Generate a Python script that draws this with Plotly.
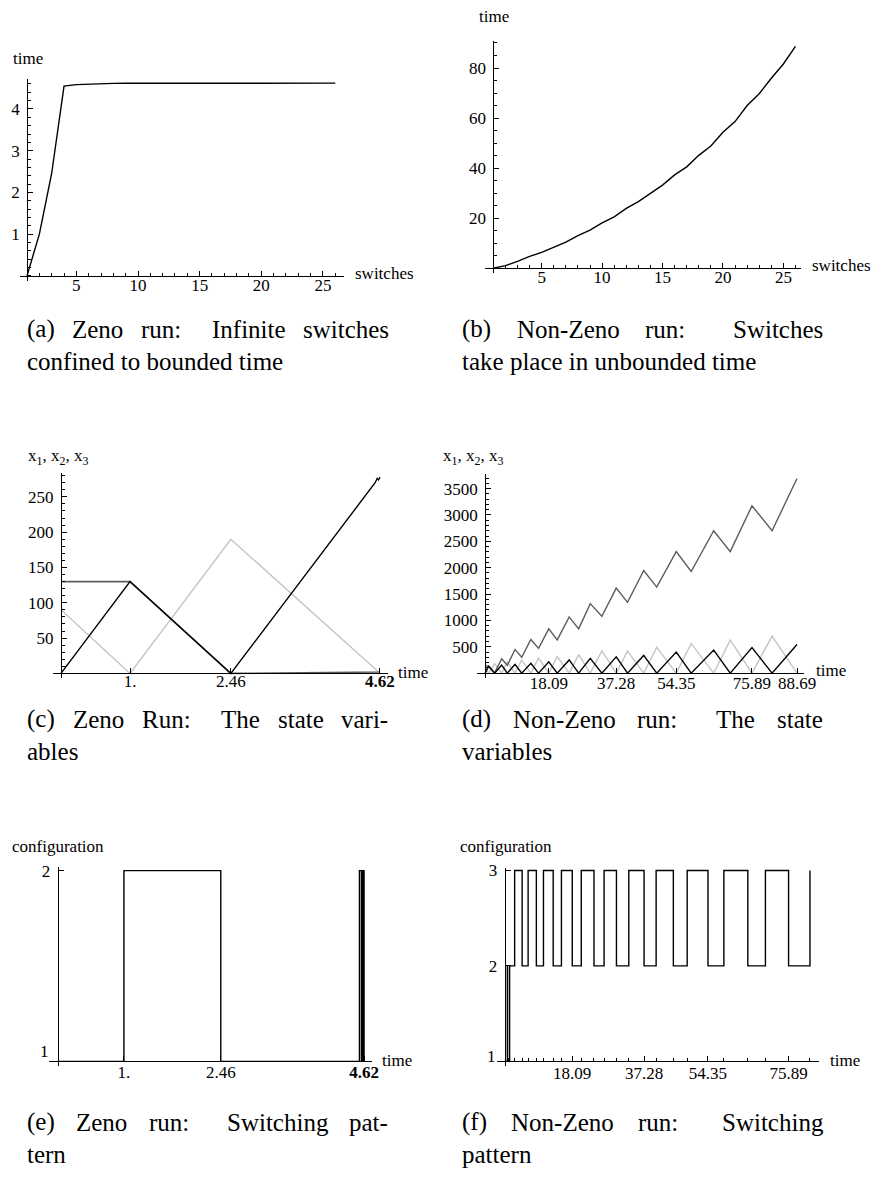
import plotly.graph_objects as go

W, H = 883, 1179
OFF = 8  # page body margin of the html page
FONT = "Liberation Serif"

# ---------------- data ----------------
# (a) Zeno run: time of each switch
zeno_switch_index = list(range(1, 27))
zeno_switch_time = [0.0, 1.0, 2.46, 4.55, 4.585, 4.60, 4.61, 4.615, 4.617, 4.618, 4.619,
                    4.62, 4.62, 4.62, 4.62, 4.62, 4.62, 4.62, 4.62, 4.62, 4.62, 4.62, 4.62,
                    4.62, 4.62, 4.62]

# (b) Non-Zeno run: time of each switch
nz_switch_index = list(range(1, 27))
nz_switch_time = [0.0, 1.0, 2.7, 4.7, 6.3, 8.5, 10.4, 13.0, 15.2, 18.09, 20.5, 23.9, 26.6,
                  29.9, 33.2, 37.28, 40.5, 45.1, 48.8, 54.35, 58.6, 65.0, 69.7, 75.89, 81.6,
                  88.69]

# (c) Zeno run: state variables
c_time = [0.0, 1.0, 2.46, 4.55, 4.58, 4.60, 4.62]
c_x_black = [0, 130, 0, 270, 276, 274, 278]
c_x_dark = [130, 130, 0, 1, 1, 2, 3]
c_x_light = [90, 0, 190, 6, 3, 2, 1]
c_tick_vals = [1.0, 2.46, 4.62]
c_tick_text = ["1.", "2.46", "<b>4.62</b>"]

# (d) Non-Zeno run: state variables (values at nz_switch_time)
d_x_dark = [135, 135, 5, 272, 148, 450, 300, 638, 470, 840, 630, 1066, 840, 1318, 1079,
            1613, 1343, 1946, 1632, 2305, 1928, 2701, 2305, 3173, 2701, 3690]
d_x_black = [0, 130, 0, 152, 0, 167, 0, 185, 0, 215, 0, 250, 0, 280, 0, 310, 0, 336, 0,
             400, 0, 437, 0, 484, 0, 543]
d_x_light = [90, 0, 180, 0, 208, 0, 247, 0, 286, 0, 312, 0, 351, 0, 420, 0, 420, 0, 490,
             0, 563, 0, 625, 0, 701, 0]
d_tick_vals = [18.09, 37.28, 54.35, 75.89, 88.69]
d_tick_text = ["18.09", "37.28", "54.35", "75.89", "88.69"]

# (e) Zeno run: switching pattern
e_time = [0.0, 1.0, 2.46, 4.55, 4.58, 4.60, 4.61, 4.615, 4.62]
e_config = [1, 2, 1, 2, 1, 2, 1, 2, 1]

# (f) Non-Zeno run: switching pattern
f_time = [0.0, 0.75, 0.8, 1.35, 2.7, 4.7, 6.3, 8.5, 10.4, 13.0, 15.2, 18.09, 20.5, 23.9,
          26.6, 29.9, 33.2, 37.28, 40.5, 45.1, 48.8, 54.35, 58.6, 65.0, 69.7, 75.89, 81.6]
f_config = [1, 2, 1, 2, 3, 2, 3, 2, 3, 2, 3, 2, 3, 2, 3, 2, 3, 2, 3, 2, 3, 2, 3, 2, 3, 2, 3]
f_tick_vals = [18.09, 37.28, 54.35, 75.89]
f_tick_text = ["18.09", "37.28", "54.35", "75.89"]

BLACK = "#000000"
DARK = "#5c5c5c"
LIGHT = "#c4c4c4"

# ---------------- layout geometry (pixels in the page) ----------------
# xdom: left/right end of the horizontal axis; ydom: top of vertical axis / crossing height
panels = [
    dict(xdom=(20, 348.3), xr=(0.416, 26.68), ydom=(73.3, 271.2), yr=(0, 4.72), ypos=27.3, xso=-6),
    dict(xdom=(491.7, 811.7), xr=(0.32, 26.44), ydom=(35, 263.5), yr=(0, 90.85), ypos=500.0, xso=-7),
    dict(xdom=(53.3, 393), xr=(-0.12, 4.733), ydom=(469.3, 670.8), yr=(0, 283.8), ypos=61.7, xso=-8),
    dict(xdom=(483.3, 815), xr=(-2.36, 90.69), ydom=(470.7, 670.5), yr=(0, 3770), ypos=491.7, xso=-6),
    dict(xdom=(50, 376.7), xr=(-0.123, 4.735), ydom=(865, 1060.7), yr=(1, 2.021), ypos=58.3, xso=-5),
    dict(xdom=(503.3, 830), xr=(-2.13, 83.97), ydom=(866, 1060.7), yr=(1, 3.03), ypos=511.4, xso=-4),
]
EXT = 5  # vertical axis runs a few px below the horizontal one


def px(x):
    return (x - OFF) / W


def py(y):
    return 1 - (y - OFF) / H


tickfont = dict(family=FONT, size=17, color="black")


def minor_lin(dtick):
    return dict(ticks="inside", ticklen=3, tickwidth=1, tickcolor="black",
                tickmode="linear", tick0=0, dtick=dtick, showgrid=False)


def minor_arr(vals):
    return dict(ticks="inside", ticklen=3, tickwidth=1, tickcolor="black",
                tickmode="array", tickvals=vals, showgrid=False)


x_ticks = [
    ([5, 10, 15, 20, 25], ["5", "10", "15", "20", "25"], minor_lin(1)),
    ([5, 10, 15, 20, 25], ["5", "10", "15", "20", "25"], minor_lin(1)),
    (c_tick_vals, c_tick_text, None),
    (d_tick_vals, d_tick_text, None),
    (c_tick_vals, c_tick_text, None),
    (f_tick_vals, f_tick_text, minor_arr([t for t in nz_switch_time[1:25] if t not in f_tick_vals])),
]
y_ticks = [
    ([1, 2, 3, 4], ["1", "2", "3", "4"], minor_lin(0.2)),
    ([20, 40, 60, 80], ["20", "40", "60", "80"], minor_lin(5)),
    ([50, 100, 150, 200, 250], ["50", "100", "150", "200", "250"], minor_lin(10)),
    ([500, 1000, 1500, 2000, 2500, 3000, 3500],
     ["500", "1000", "1500", "2000", "2500", "3000", "3500"], minor_lin(100)),
    ([2], ["2"], None),
    ([2, 3], ["2", "3"], None),
]

fig = go.Figure()


def axname(i, kind):
    return kind if i == 0 else f"{kind}{i + 1}"


def add_line(i, x, y, color, width=1.4, shape="linear"):
    fig.add_trace(go.Scatter(
        x=x, y=y, mode="lines", line=dict(color=color, width=width, shape=shape),
        xaxis=axname(i, "x"), yaxis=axname(i, "y"), showlegend=False, hoverinfo="skip"))


add_line(0, zeno_switch_index, zeno_switch_time, BLACK)
add_line(1, nz_switch_index, nz_switch_time, BLACK)
add_line(2, c_time, c_x_light, LIGHT)
add_line(2, c_time, c_x_dark, DARK, 1.6)
add_line(2, c_time, c_x_black, BLACK)
add_line(3, nz_switch_time, d_x_light, LIGHT)
add_line(3, nz_switch_time, d_x_dark, DARK)
add_line(3, nz_switch_time, d_x_black, BLACK)
add_line(4, e_time, e_config, BLACK, 1.4, "hv")
add_line(5, f_time, f_config, BLACK, 1.4, "hv")

layout = dict(width=W, height=H, margin=dict(l=0, r=0, t=0, b=0),
              paper_bgcolor="white", plot_bgcolor="rgba(0,0,0,0)", showlegend=False)

for i, p in enumerate(panels):
    top, cross = p["ydom"]
    y0, y1 = p["yr"]
    scale = (cross - top) / (y1 - y0)  # px per unit
    tv, tt, mn = x_ticks[i]
    xa = dict(domain=[px(p["xdom"][0]), px(p["xdom"][1])], range=list(p["xr"]),
              anchor="free", position=py(cross), showline=True, linecolor="black",
              linewidth=1, ticks="inside", ticklen=5, tickwidth=1, tickcolor="black",
              showgrid=False, zeroline=False, tickmode="array", tickvals=tv, ticktext=tt,
              tickfont=tickfont, ticklabelstandoff=p["xso"], fixedrange=True)
    if mn:
        xa["minor"] = mn
    tv, tt, mn = y_ticks[i]
    ya = dict(domain=[py(cross + EXT), py(top)], range=[y0 - EXT / scale, y1],
              anchor="free", position=px(p["ypos"]), showline=True, linecolor="black",
              linewidth=1, ticks="inside", ticklen=5, tickwidth=1, tickcolor="black",
              showgrid=False, zeroline=False, tickmode="array", tickvals=tv, ticktext=tt,
              tickfont=tickfont, ticklabelstandoff=4, fixedrange=True)
    if mn:
        ya["minor"] = mn
    layout[axname(i, "xaxis")] = xa
    layout[axname(i, "yaxis")] = ya

fig.update_layout(**layout)


def ann(text, x, y, size=17, xanchor="left", yanchor="middle"):
    fig.add_annotation(text=text, x=px(x), y=py(y), xref="paper", yref="paper",
                       xanchor=xanchor, yanchor=yanchor, showarrow=False,
                       font=dict(family=FONT, size=size, color="black"),
                       borderpad=0, borderwidth=0)


# axis labels
ann("time", 12.7, 52.5)
ann("switches", 359.3, 268.5)
ann("time", 485, 10.5)
ann("switches", 822.7, 260.5)
ann("x<sub>1</sub>, x<sub>2</sub>, x<sub>3</sub>", 28.3, 453.5)
ann("time", 403.3, 669.5)
ann("x<sub>1</sub>, x<sub>2</sub>, x<sub>3</sub>", 449.3, 453.5)
ann("time", 826.7, 668)
ann("configuration", 12.3, 845)
ann("time", 387.3, 1059.5)
ann("configuration", 466, 845)
ann("time", 841, 1059.5)
# lowest configuration tick labels (raised above the time axis)
ann("1", 50, 1051, xanchor="right")
ann("1", 503, 1055.7, xanchor="right")

# captions (justified like TeX: extra space and stretch after a colon)
TW = {" ": 250, "(": 333, ")": 333, "-": 333, ":": 278, ".": 250,
      "a": 444, "b": 500, "c": 444, "d": 500, "e": 444, "f": 333, "g": 500, "h": 500,
      "i": 278, "j": 278, "k": 500, "l": 278, "m": 778, "n": 500, "o": 500, "p": 500,
      "q": 500, "r": 333, "s": 389, "t": 278, "u": 500, "v": 500, "w": 722, "x": 500,
      "y": 500, "z": 444, "I": 333, "N": 722, "R": 667, "S": 556, "T": 611, "Z": 611}
CAP = 25


def tw(s):
    return sum(TW.get(ch, 500) for ch in s) / 1000 * CAP


def justified(line, x0, x1, y):
    words = line.split(" ")
    widths = [tw(w) for w in words]
    gaps_w, gaps_s = [], []
    for w in words[:-1]:
        if w.endswith(":"):
            gaps_w.append(0.444 * CAP)
            gaps_s.append(0.333 * CAP)
        else:
            gaps_w.append(0.333 * CAP)
            gaps_s.append(0.167 * CAP)
    r = (x1 - x0 - sum(widths) - sum(gaps_w)) / sum(gaps_s)
    x = x0
    for k, (w, wd) in enumerate(zip(words, widths)):
        ann(w, x, y, size=CAP)
        if k < len(gaps_w):
            x += wd + gaps_w[k] + gaps_s[k] * r


captions = [
    ("(a) Zeno run: Infinite switches", "confined to bounded time", 27, 393, 325),
    ("(b) Non-Zeno run: Switches", "take place in unbounded time", 468, 833, 325),
    ("(c) Zeno Run: The state vari-", "ables", 27, 393, 717),
    ("(d) Non-Zeno run: The state", "variables", 468, 833, 717),
    ("(e) Zeno run: Switching pat-", "tern", 27, 393, 1122),
    ("(f) Non-Zeno run: Switching", "pattern", 468, 833, 1122),
]
for l1, l2, x0, x1, y in captions:
    justified(l1, x0, x1, y)
    ann(l2, x0, y + 32, size=CAP)

fig.write_html("out.html")
